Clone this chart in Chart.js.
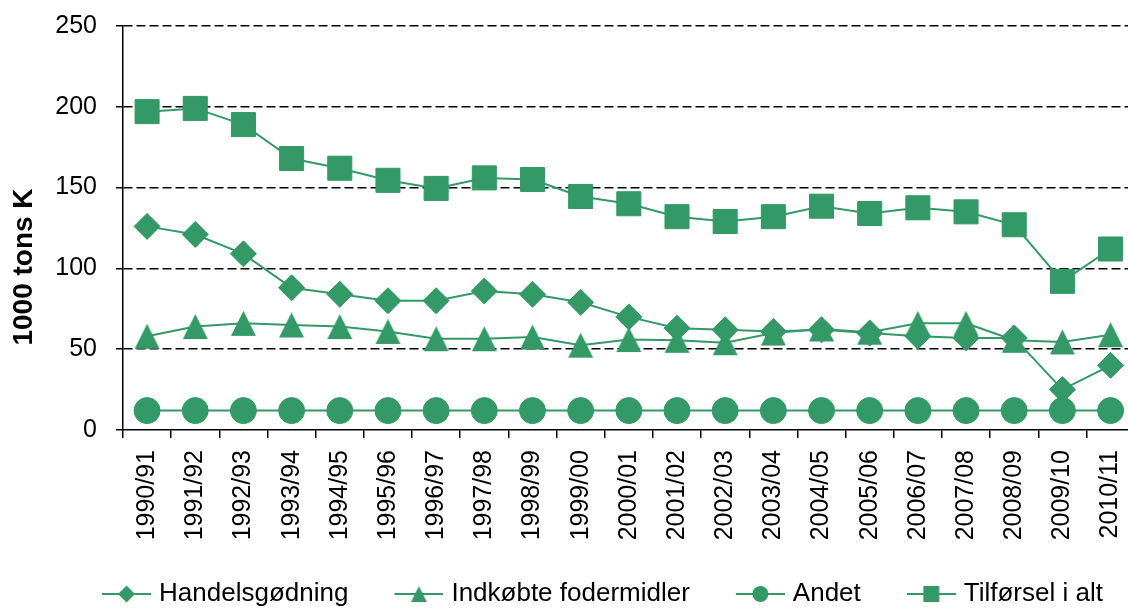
<!DOCTYPE html>
<html>
<head>
<meta charset="utf-8">
<script src="https://cdn.jsdelivr.net/npm/chart.js@4.4.1/dist/chart.umd.min.js"></script>
<style>
  html, body { margin: 0; padding: 0; background: #ffffff; overflow: hidden; }
  #wrap { width: 1153px; height: 608px; position: relative; }
</style>
</head>
<body>
<div id="wrap"><canvas id="chart"></canvas></div>
<script>
const categories = ['1990/91','1991/92','1992/93','1993/94','1994/95','1995/96','1996/97','1997/98','1998/99','1999/00',
  '2000/01','2001/02','2002/03','2003/04','2004/05','2005/06','2006/07','2007/08','2008/09','2009/10','2010/11'];
const handelsgodning = [126, 121, 109, 88, 84, 80, 80, 86, 84, 79, 70, 63, 62, 61, 62, 60, 58, 57, 57, 25, 40];
const indkobteFodermidler = [58, 64, 66, 65, 64, 61, 56.5, 56.5, 57.5, 52.5, 56, 55.5, 54, 60, 62.5, 60.5, 66, 66, 55.5, 54.5, 59];
const andet = [12, 12, 12, 12, 12, 12, 12, 12, 12, 12, 12, 12, 12, 12, 12, 12, 12, 12, 12, 12, 12];
const tilforselIAlt = [197, 199, 189, 168, 162, 154.5, 149.5, 156, 155, 144.5, 140, 132, 129, 132, 138.5, 134, 137.5, 135, 127, 92, 112];
const seriesNames = ['Handelsgødning', 'Indkøbte fodermidler', 'Andet', 'Tilførsel i alt'];
const yTicks = [0, 50, 100, 150, 200, 250];
const yTitle = '1000 tons K';

const GREEN = '#339966';
const FONT = "'Liberation Sans', Arial, Helvetica, sans-serif";

function markerPath(ctx, shape, cx, cy, s) {
  const h = s / 2;
  ctx.beginPath();
  if (shape === 'diamond') {
    ctx.moveTo(cx, cy - h); ctx.lineTo(cx + h, cy); ctx.lineTo(cx, cy + h); ctx.lineTo(cx - h, cy);
  } else if (shape === 'triangle') {
    ctx.moveTo(cx, cy - h); ctx.lineTo(cx + h, cy + h); ctx.lineTo(cx - h, cy + h);
  } else if (shape === 'circle') {
    ctx.arc(cx, cy, h, 0, Math.PI * 2);
  } else {
    ctx.rect(cx - h, cy - h, s, s);
  }
  ctx.closePath();
  ctx.fillStyle = GREEN;
  ctx.fill();
}

function triangleCanvas(size) {
  const c = document.createElement('canvas');
  c.width = size + 2; c.height = size + 2;
  markerPath(c.getContext('2d'), 'triangle', c.width / 2, c.height / 2, size);
  return c;
}

function legendIcon(shape, size) {
  const c = document.createElement('canvas');
  c.width = 54; c.height = 20;
  const ctx = c.getContext('2d');
  ctx.strokeStyle = GREEN; ctx.lineWidth = 2;
  ctx.beginPath(); ctx.moveTo(5, 10); ctx.lineTo(54, 10); ctx.stroke();
  markerPath(ctx, shape, 29.5, 10, size);
  return c;
}

const legendIcons = [legendIcon('diamond', 17), legendIcon('triangle', 16), legendIcon('circle', 16), legendIcon('square', 16)];

function ds(label, data, style, radius) {
  return {
    label, data,
    borderColor: GREEN, backgroundColor: GREEN,
    borderWidth: 2,
    pointStyle: style, pointRadius: radius,
    pointBackgroundColor: GREEN, pointBorderColor: GREEN, pointBorderWidth: 1,
    tension: 0, clip: false
  };
}

const legendShift = {
  id: 'legendShift',
  afterLayout(chart) {
    const l = chart.legend;
    if (!l) return;
    const dx = 26, dy = -11;
    l.left += dx; l.right += dx; l.top += dy; l.bottom += dy;
  }
};

const yTitlePlugin = {
  id: 'yTitlePlugin',
  afterDraw(chart) {
    const ctx = chart.ctx;
    const a = chart.chartArea;
    ctx.save();
    ctx.font = 'bold 28px ' + FONT;
    ctx.fillStyle = '#000';
    ctx.textAlign = 'center';
    ctx.textBaseline = 'middle';
    ctx.translate(24, (a.top + a.bottom) / 2 + 39);
    ctx.rotate(-Math.PI / 2);
    ctx.fillText(yTitle, 0, 0);
    ctx.restore();
  }
};

new Chart(document.getElementById('chart'), {
  type: 'line',
  data: {
    labels: categories,
    datasets: [
      ds(seriesNames[0], handelsgodning, 'rectRot', 13),
      ds(seriesNames[1], indkobteFodermidler, triangleCanvas(25), 13),
      ds(seriesNames[2], andet, 'circle', 13),
      ds(seriesNames[3], tilforselIAlt, 'rect', 17)
    ]
  },
  options: {
    responsive: true,
    maintainAspectRatio: false,
    animation: false,
    events: [],
    layout: { padding: { top: 26, left: 0, right: 0, bottom: -20 } },
    plugins: {
      tooltip: { enabled: false },
      legend: {
        position: 'bottom',
        labels: {
          usePointStyle: true,
          pointStyleWidth: 44,
          padding: 46,
          color: '#000',
          font: { family: FONT, size: 26 },
          generateLabels(chart) {
            return chart.data.datasets.map((d, i) => ({
              text: d.label,
              pointStyle: legendIcons[i],
              fillStyle: GREEN,
              strokeStyle: GREEN,
              lineWidth: 0,
              hidden: false,
              datasetIndex: i,
              fontColor: '#000'
            }));
          }
        }
      }
    },
    scales: {
      x: {
        type: 'category',
        offset: true,
        afterFit(scale) { scale.height = 116; },
        grid: {
          offset: true, drawOnChartArea: false, drawTicks: true,
          tickLength: 8, color: '#000', lineWidth: 1.5
        },
        border: { display: true, color: '#000', width: 1.5 },
        ticks: {
          autoSkip: false, minRotation: 90, maxRotation: 90, padding: 12,
          color: '#000', font: { family: FONT, size: 25 }
        }
      },
      y: {
        min: 0, max: 250,
        afterFit(scale) { scale.width = 123; scale.paddingTop = 0; scale.paddingBottom = 0; },
        afterBuildTicks(scale) { scale.ticks = yTicks.map(v => ({ value: v })); },
        grid: {
          color: (c) => (c.tick && c.tick.value === 0) ? 'rgba(0,0,0,0)' : '#000',
          lineWidth: 1.5, tickLength: 7, tickColor: '#000', tickWidth: 1.5, tickBorderDash: []
        },
        border: { display: true, color: '#000', width: 1.5, dash: [9, 4] },
        ticks: { padding: 19, color: '#000', font: { family: FONT, size: 25 } }
      }
    }
  },
  plugins: [legendShift, yTitlePlugin]
});
</script>
</body>
</html>
